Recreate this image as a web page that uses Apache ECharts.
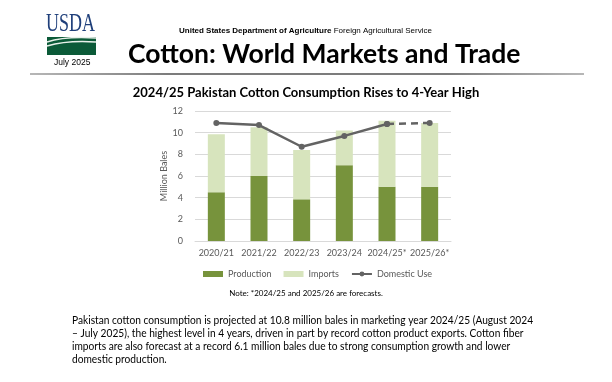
<!DOCTYPE html>
<html>
<head>
<meta charset="utf-8">
<script src="https://cdn.jsdelivr.net/npm/echarts@6/dist/echarts.min.js"></script>
<style>
html,body{margin:0;padding:0;background:#fff;}
#c{width:612px;height:382px;}
</style>
</head>
<body>
<div id="c"></div>
<script>
const categories = ['2020/21','2021/22','2022/23','2023/24','2024/25*','2025/26*'];
const production = [4.5, 6.0, 3.85, 7.0, 5.0, 5.0];
const imports = [5.35, 4.5, 4.55, 3.2, 6.1, 5.9];
const domesticUse = [10.9, 10.7, 8.7, 9.7, 10.8, 10.9];
const forecastFrom = 4; // index where forecast (dashed) segment begins
const yTicks = [0, 2, 4, 6, 8, 10, 12];

const solidUse = domesticUse.map((v,i)=> i<=forecastFrom ? v : '-');
const dashedUse = domesticUse.map((v,i)=> i>=forecastFrom ? v : '-');

const chart = echarts.init(document.getElementById('c'), null, {renderer:'canvas'});
const F = 'Lato, "Open Sans", sans-serif';
const paragraph = [
  'Pakistan cotton consumption is projected at 10.8 million bales in marketing year 2024/25 (August 2024',
  '– July 2025), the highest level in 4 years, driven in part by record cotton product exports. Cotton fiber',
  'imports are also forecast at a record 6.1 million bales due to strong consumption growth and lower',
  'domestic production.'
];

const graphics = [
  // USDA logo
  {type:'text', x:46, y:12, scaleX:0.72, style:{text:'USDA', font:'25px "Liberation Serif", serif', fill:'#1f3f7a'}},
  {type:'rect', shape:{x:47, y:37, width:49, height:18}, style:{fill:'#0b5a38'}},
  {type:'bezierCurve', shape:{x1:47,y1:42,x2:96,y2:38,cpx1:62,cpy1:37,cpx2:80,cpy2:37}, style:{stroke:'#e8f0ea', lineWidth:1.4, fill:null}},
  {type:'bezierCurve', shape:{x1:47,y1:46,x2:96,y2:42,cpx1:64,cpy1:41,cpx2:82,cpy2:41}, style:{stroke:'#e8f0ea', lineWidth:1.4, fill:null}},
  {type:'text', left:54, top:58, style:{text:'July 2025', font:'8.5px "Liberation Sans", Arial, sans-serif', fill:'#000'}},
  // Header
  {type:'text', left:179, top:27, style:{text:'{b|United States Department of Agriculture} Foreign Agricultural Service', font:'8px "Liberation Sans", Arial, sans-serif', fill:'#000', rich:{b:{font:'bold 8px "Liberation Sans", Arial, sans-serif', fill:'#000'}}}},
  {type:'text', left:128, top:41, style:{text:'Cotton: World Markets and Trade', font:'bold 26.5px '+F, fill:'#000'}},
  {type:'line', shape:{x1:30,y1:74,x2:584,y2:74}, style:{lineWidth:1.6, stroke:{type:'linear', x:0, y:0, x2:1, y2:0, colorStops:[{offset:0,color:'#a0a0a0'},{offset:0.25,color:'#505050'},{offset:0.75,color:'#505050'},{offset:1,color:'#a0a0a0'}]}}},
  // chart title
  {type:'text', left:'center', top:86, style:{text:'2024/25 Pakistan Cotton Consumption Rises to 4-Year High', font:'bold 13px '+F, fill:'#000'}},
  // note
  {type:'text', left:'center', top:289, style:{text:'Note: *2024/25 and 2025/26 are forecasts.', font:'8px '+F, fill:'#000'}},
  // paragraph
  {type:'text', x:72, y:314, scaleX:0.943, style:{text:paragraph.join('\n'), font:'10.8px '+F, fill:'#000', lineHeight:13}}
];

chart.setOption({
  animation:false,
  textStyle:{fontFamily:F},
  grid:{left:195, right:161, top:111, bottom:141, containLabel:false},
  legend:{
    left:203, top:269.5, padding:0, itemWidth:20, itemHeight:6, itemGap:12,
    textStyle:{fontSize:9, color:'#595959', fontFamily:F},
    data:[{name:'Production', icon:'rect'},{name:'Imports', icon:'rect'},{name:'Domestic Use'}]
  },
  xAxis:{
    type:'category', data:categories,
    axisLine:{lineStyle:{color:'#d9d9d9'}}, axisTick:{show:false},
    axisLabel:{fontSize:9, color:'#595959', margin:8, interval:0}
  },
  yAxis:{
    type:'value', min:yTicks[0], max:yTicks[yTicks.length-1], interval:2,
    name:'Million Bales', nameLocation:'middle', nameRotate:90, nameGap:18,
    nameTextStyle:{fontSize:9, color:'#595959'},
    axisLine:{show:false}, axisTick:{show:false},
    axisLabel:{fontSize:9, color:'#595959', margin:12},
    splitLine:{lineStyle:{color:'#d9d9d9'}}
  },
  series:[
    {name:'Production', type:'bar', stack:'s', data:production, barWidth:17, itemStyle:{color:'#77933c'}},
    {name:'Imports', type:'bar', stack:'s', data:imports, barWidth:17, itemStyle:{color:'#d7e4bd'}},
    {name:'Domestic Use', type:'line', data:solidUse, symbol:'circle', symbolSize:6,
      itemStyle:{color:'#636363'}, lineStyle:{color:'#636363', width:2.5}, z:5},
    {name:'Domestic Use (forecast)', type:'line', data:dashedUse, symbol:'circle', symbolSize:6,
      itemStyle:{color:'#636363'}, lineStyle:{color:'#636363', width:2.5, type:[7,5]}, z:5}
  ],
  graphic:graphics
});
</script>
</body>
</html>
